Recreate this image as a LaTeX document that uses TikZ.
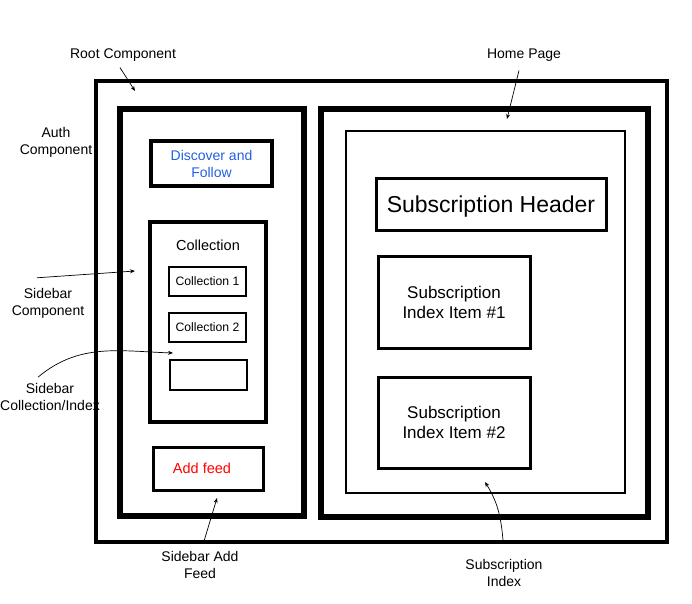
\documentclass[tikz,border=0pt]{standalone}
\usepackage{fontspec}
\setmainfont{Liberation Sans}
\usepackage{xcolor}
\usetikzlibrary{arrows.meta, positioning, calc}

\definecolor{linkblue}{RGB}{35,95,225}

\begin{document}
\begin{tikzpicture}[
      x=1pt, y=-1pt,
      font=\fontsize{14}{17}\selectfont,
      frame/.style={rectangle, draw=black, line width=#1, inner sep=0pt, outer sep=0pt},
      frame/.default=3pt,
      lbl/.style={align=center, inner sep=1pt},
      link/.style={-{Stealth[length=5pt, width=4pt]}, line width=0.7pt}
    ]
      \useasboundingbox (0,0) rectangle (692,603);
      % frames
      \node[frame=3.5pt, minimum width=571pt, minimum height=461pt] (root) at (381.5,311.5) {};
      \node[frame=5.5pt, minimum width=184pt, minimum height=407pt] (sidebar) at (212,312.5) {};
      \node[frame=5.5pt, minimum width=327pt, minimum height=408pt] (home) at (484.5,313) {};
      \node[frame=2pt, minimum width=279pt, minimum height=362pt] (subidx) at (485.5,312) {};
      % sidebar content
      \node[frame=3.5pt, minimum width=121pt, minimum height=45pt, align=center,
        text=linkblue] (discover) at (211.5,163.5) {Discover and\\Follow};
      \node[frame=3.5pt, minimum width=116pt, minimum height=200pt] (coll) at (208,322) {};
      \node[font=\fontsize{14.5}{17}\selectfont] (colltitle) at (208,245) {Collection};
      \node[frame=2.5pt, minimum width=77pt, minimum height=29pt,
        font=\fontsize{12.2}{14}\selectfont] (coll1) at (207.5,281.5) {Collection 1};
      \node[frame=2.5pt, minimum width=77pt, minimum height=29pt,
        font=\fontsize{12.2}{14}\selectfont] (coll2) at (207.5,327.5) {Collection 2};
      \node[frame=2.5pt, minimum width=77pt, minimum height=30pt] (collnew) at (208.5,375) {};
      \node[frame=3pt, minimum width=110pt, minimum height=43pt, text=red,
        font=\fontsize{14.5}{17}\selectfont] (addfeed) at (208,468.5) {\hspace*{-12pt}Add feed};
      % home page content
      \node[frame=3pt, minimum width=230pt, minimum height=52pt, text depth=0pt,
        font=\fontsize{23}{28}\selectfont] (subhead) at (491,204) {Subscription Header};
      \node[frame=3pt, minimum width=152pt, minimum height=92pt, align=center,
        font=\fontsize{17}{20}\selectfont] (item1) at (454,302) {Subscription\\Index Item \#1};
      \node[frame=3pt, minimum width=152pt, minimum height=91pt, align=center,
        font=\fontsize{17}{20}\selectfont] (item2) at (454,422.5) {Subscription\\Index Item \#2};
      % labels
      \node[lbl] (rootlbl) at (123,55) {Root Component};
      \node[lbl] (authlbl) at (56,142) {Auth\\Component};
      \node[lbl] (homelbl) at (524,55) {Home Page};
      \node[lbl] (sidelbl) at (48,303) {Sidebar\\Component};
      \node[lbl] (colllbl) at (50,397) {Sidebar\\Collection/Index};
      \node[lbl] (addlbl) at (200,565) {Sidebar Add\\Feed};
      \node[lbl] (idxlbl) at (504,573) {Subscription\\Index};
      % arrow targets
      \coordinate (roottip) at (135,91);
      \coordinate (hometip) at (507,119);
      \coordinate (sidetip) at (135,271);
      \coordinate (colltip) at (173,353);
      \coordinate (addtip) at (217,498);
      \coordinate (idxtip) at (485,482);
      % arrows
      \draw[link] ([shift={(-3,5)}]rootlbl.south) -- (roottip);
      \draw[link] ([shift={(-5,8)}]homelbl.south) -- (hometip);
      \draw[link] ([shift={(-11,-9)}]sidelbl.north) -- (sidetip);
      \draw[link] ([shift={(-12,-5)}]colllbl.north) to[out=40, in=178] (colltip);
      \draw[link] ([shift={(4,-9)}]addlbl.north) -- (addtip);
      \draw[link] ([shift={(-1,-18)}]idxlbl.north) to[out=95, in=-58] (idxtip);
    \end{tikzpicture}
\end{document}
